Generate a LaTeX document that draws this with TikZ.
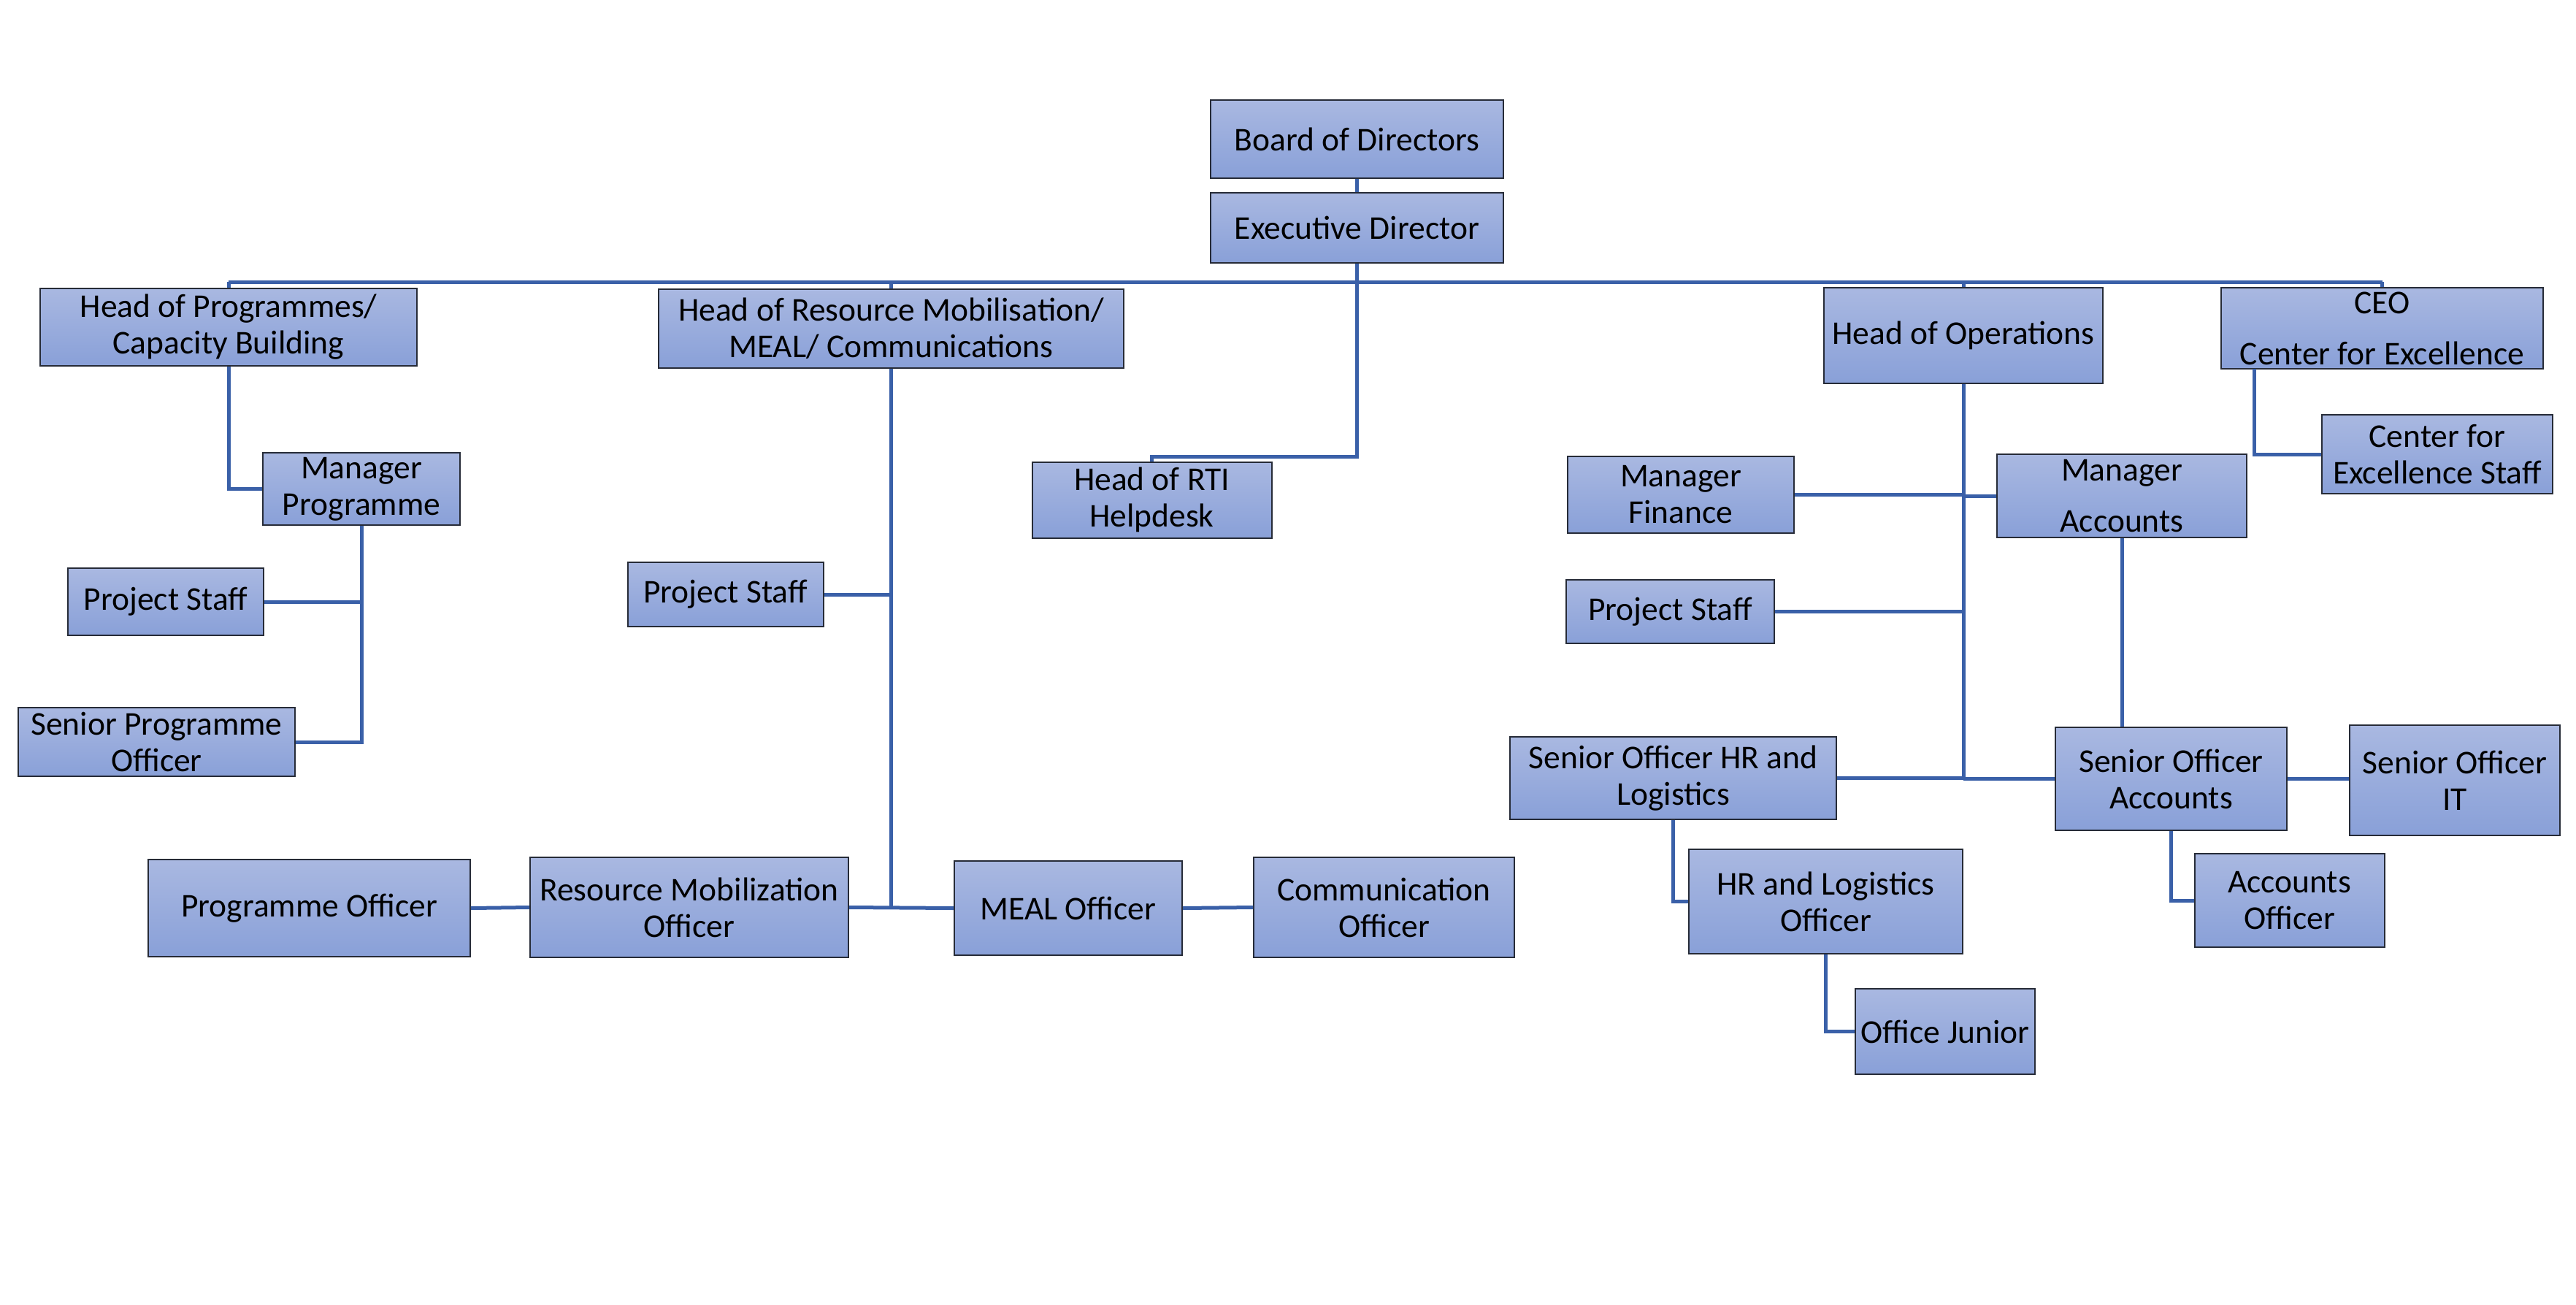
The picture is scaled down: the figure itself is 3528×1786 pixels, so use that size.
\documentclass[tikz,border=0pt]{standalone}
\usepackage{fontspec}
\setmainfont{Carlito}
\definecolor{boxtop}{RGB}{169,184,225}
\definecolor{boxbot}{RGB}{137,160,216}
\definecolor{boxline}{RGB}{38,43,55}
\definecolor{conn}{RGB}{58,96,168}
\tikzset{
  orgbox/.style={draw=boxline, line width=2pt, top color=boxtop, bottom color=boxbot,
    align=center, inner sep=0pt, font=\fontsize{45.5}{50}\selectfont},
  link/.style={draw=conn, line width=5pt}
}
\newcommand{\orgnode}[7]{\node[orgbox, minimum width=#4, minimum height=#5, #6] (#1) at (#2,#3) {#7};}
\begin{document}
\begin{tikzpicture}[x=1pt,y=-1pt]
\useasboundingbox[fill=white] (0,0) rectangle (3528,1786);

% nodes: name, cx, cy, w, h, extra, text
\orgnode{bod}{1858.5}{190.5}{401pt}{107pt}{}{Board of Directors}
\orgnode{ed}{1858.5}{312}{401pt}{96pt}{}{Executive Director}
\orgnode{hop}{313}{448}{516pt}{106pt}{}{Head of Programmes/\\Capacity Building}
\orgnode{horm}{1220.5}{450}{637pt}{108pt}{}{Head of Resource Mobilisation/\\MEAL/ Communications}
\orgnode{rti}{1577.5}{684.5}{328pt}{104pt}{}{Head of RTI\\Helpdesk}
\orgnode{hoo}{2689}{459.5}{382pt}{131pt}{}{Head of Operations}
\orgnode{ceo}{3262.5}{449.5}{441pt}{111pt}{}{CEO\\[20pt]Center for Excellence}
\orgnode{mp}{495}{669.5}{270pt}{99pt}{}{Manager\\Programme}
\orgnode{psa}{227}{824}{268pt}{92pt}{}{Project Staff}
\orgnode{spo}{214.5}{1016}{379pt}{94pt}{}{Senior Programme\\Officer}
\orgnode{psb}{993.5}{814}{268pt}{88pt}{}{Project Staff}
\orgnode{po}{423.5}{1243.5}{441pt}{133pt}{}{Programme Officer}
\orgnode{rmo}{944}{1242.5}{436pt}{137pt}{}{Resource Mobilization\\Officer}
\orgnode{meal}{1463}{1243.5}{312pt}{129pt}{}{MEAL Officer}
\orgnode{comm}{1895.5}{1242.5}{357pt}{137pt}{}{Communication\\Officer}
\orgnode{mf}{2302}{677.5}{310pt}{105pt}{}{Manager\\Finance}
\orgnode{ma}{2906}{679}{342pt}{114pt}{}{Manager\\[20pt]Accounts}
\orgnode{cfes}{3338}{622}{316pt}{108pt}{}{Center for\\Excellence Staff}
\orgnode{psc}{2287.5}{837.5}{285pt}{87pt}{}{Project Staff}
\orgnode{sohr}{2291.5}{1065.5}{447pt}{113pt}{}{Senior Officer HR and\\Logistics}
\orgnode{soa}{2973.5}{1066.5}{317pt}{141pt}{}{Senior Officer\\Accounts}
\orgnode{soit}{3362}{1068.5}{288pt}{151pt}{}{Senior Officer\\IT}
\orgnode{hrlo}{2500.5}{1234.5}{375pt}{143pt}{}{HR and Logistics\\Officer}
\orgnode{oj}{2664}{1412.5}{246pt}{117pt}{}{Office Junior}
\orgnode{ao}{3135.5}{1233}{260pt}{128pt}{}{Accounts\\Officer}

% junction coordinates
\coordinate (barL) at (313,386);
\coordinate (barR) at (3262.5,386);
\coordinate (rtij) at (1858.5,625);
\coordinate (ceoj) at (3087,505);

% connectors
\draw[link] (bod.south) -- (ed.north);
\draw[link] (barL) -- (barR);
\draw[link] (barL) -- (hop.north);
\draw[link] (horm.north |- barL) -- (horm.north);
\draw[link] (hoo.north |- barL) -- (hoo.north);
\draw[link] (barR) -- (ceo.north);
\draw[link] (ed.south) -- (rtij) -| (rti.north);

\draw[link] (hop.south) |- (mp.west);
\draw[link] (mp.south) |- (spo.east);
\draw[link] (psa.east) -- (mp.south |- psa.east);

\draw[link] (horm.south) -- (horm.south |- rmo.east);
\draw[link] (psb.east) -- (horm.south |- psb.east);
\draw[link] (rmo.east) -- (meal.west);
\draw[link] (po.east) -- (rmo.west);
\draw[link] (meal.east) -- (comm.west);

\draw[link] (hoo.south) -- (hoo.south |- soa.west);
\draw[link] (mf.east) -- (hoo.south |- mf.east);
\draw[link] (hoo.south |- ma.west) -- (ma.west);
\draw[link] (psc.east) -- (hoo.south |- psc.east);
\draw[link] (sohr.east) -- (hoo.south |- sohr.east);
\draw[link] (hoo.south |- soa.west) -- (soa.west);
\draw[link] (ma.south) -- (ma.south |- soa.north);
\draw[link] (soa.east) -- (soa.east -| soit.west);
\draw[link] (sohr.south) |- (hrlo.west);
\draw[link] (hrlo.south) |- (oj.west);
\draw[link] (soa.south) |- (ao.west);
\draw[link] (ceoj) |- (cfes.west);
\end{tikzpicture}
\end{document}
